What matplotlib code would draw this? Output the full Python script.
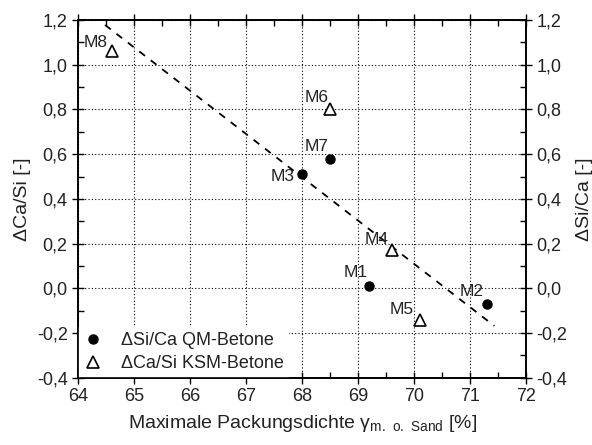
import matplotlib
matplotlib.use("Agg")
import matplotlib.pyplot as plt
from matplotlib.ticker import MultipleLocator, FuncFormatter

plt.rcParams['font.family'] = ['Liberation Sans', 'DejaVu Sans']

# Data
qm_names = ["M1", "M2", "M3", "M7"]
qm_x = [69.2, 71.3, 68.0, 68.5]
qm_y = [0.01, -0.07, 0.51, 0.58]

ksm_names = ["M4", "M5", "M6", "M8"]
ksm_x = [69.6, 70.1, 68.5, 64.6]
ksm_y = [0.17, -0.14, 0.80, 1.06]

trend_x = [64.48, 71.43]
trend_y = [1.178, -0.168]

# label offsets in pixels (dx to right edge of text, dy to text center)
label_offsets = {
    "M1": (-2, 14), "M2": (-3, 13), "M3": (-8, -2), "M7": (-2, 12),
    "M4": (-3, 11), "M5": (-6, 10), "M6": (-2, 12), "M8": (-4, 9),
}

fig = plt.figure(figsize=(5.92, 4.45), dpi=100)
ax = fig.add_axes([0.132, 0.151, 0.757, 0.804])

ax.plot(trend_x, trend_y, linestyle=(0, (4, 4)), color='black', lw=1.3, zorder=2)
ax.plot(qm_x, qm_y, 'o', color='black', ms=6.5, linestyle='none',
        label='\u0394Si/Ca QM-Betone', zorder=3)
ax.plot(ksm_x, ksm_y, '^', mfc='white', mec='black', mew=1.2, ms=8.5,
        linestyle='none', label='\u0394Ca/Si KSM-Betone', zorder=3)

for names, xs, ys in ((qm_names, qm_x, qm_y), (ksm_names, ksm_x, ksm_y)):
    for n, x, y in zip(names, xs, ys):
        dx, dy = label_offsets[n]
        ax.annotate(n, (x, y), xytext=(dx, dy), textcoords='offset pixels',
                    ha='right', va='center', fontsize=12.5, color='#222222')

ax.set_xlim(64, 72)
ax.set_ylim(-0.4, 1.2)
ax.xaxis.set_major_locator(MultipleLocator(1))
ax.xaxis.set_minor_locator(MultipleLocator(0.5))
ax.yaxis.set_major_locator(MultipleLocator(0.2))
ax.yaxis.set_minor_locator(MultipleLocator(0.1))

comma = FuncFormatter(lambda v, p: f"{v:.1f}".replace('.', ',').replace('-0,0', '0,0'))
ax.yaxis.set_major_formatter(comma)

ax.grid(True, which='major', linestyle=(0, (1, 2)), color='black', lw=0.8)
ax.tick_params(which='major', direction='inout', length=8, width=1, labelsize=13,
               top=True, right=False, colors='black', labelcolor='#222222')
ax.tick_params(which='minor', direction='in', length=4, width=1, top=True)
ax.tick_params(axis='x', which='both', top=True)
ax.tick_params(axis='x', which='major', pad=3)
for s in ax.spines.values():
    s.set_linewidth(1.2)

ax2 = ax.twinx()
ax2.set_ylim(-0.4, 1.2)
ax2.yaxis.set_major_locator(MultipleLocator(0.2))
ax2.yaxis.set_minor_locator(MultipleLocator(0.1))
ax2.yaxis.set_major_formatter(comma)
ax2.tick_params(which='major', direction='inout', length=8, width=1, labelsize=13,
                labelcolor='#222222')
ax2.tick_params(which='minor', direction='in', length=4, width=1)
for s in ax2.spines.values():
    s.set_linewidth(1.2)

ax.set_ylabel('\u0394Ca/Si [-]', fontsize=14, color='#222222', labelpad=4)
ax2.set_ylabel('\u0394Si/Ca [-]', fontsize=14, color='#222222', labelpad=6)
ax.set_xlabel('Maximale Packungsdichte \u03b3$_{\\mathregular{m.\\ o.\\ Sand}}$ [%]',
              fontsize=14, color='#222222', labelpad=6)

leg = ax.legend(loc='lower left', frameon=True, fontsize=13, borderaxespad=0.0,
                handlelength=1.0, handletextpad=1.05, labelspacing=0.33,
                borderpad=0.3)
leg.get_frame().set_edgecolor('none')
leg.get_frame().set_facecolor('white')
leg.get_frame().set_alpha(1)
leg.get_frame().set_boxstyle('square', pad=0)
for t in leg.get_texts():
    t.set_color('#222222')

fig.savefig('out.png', dpi=100)
